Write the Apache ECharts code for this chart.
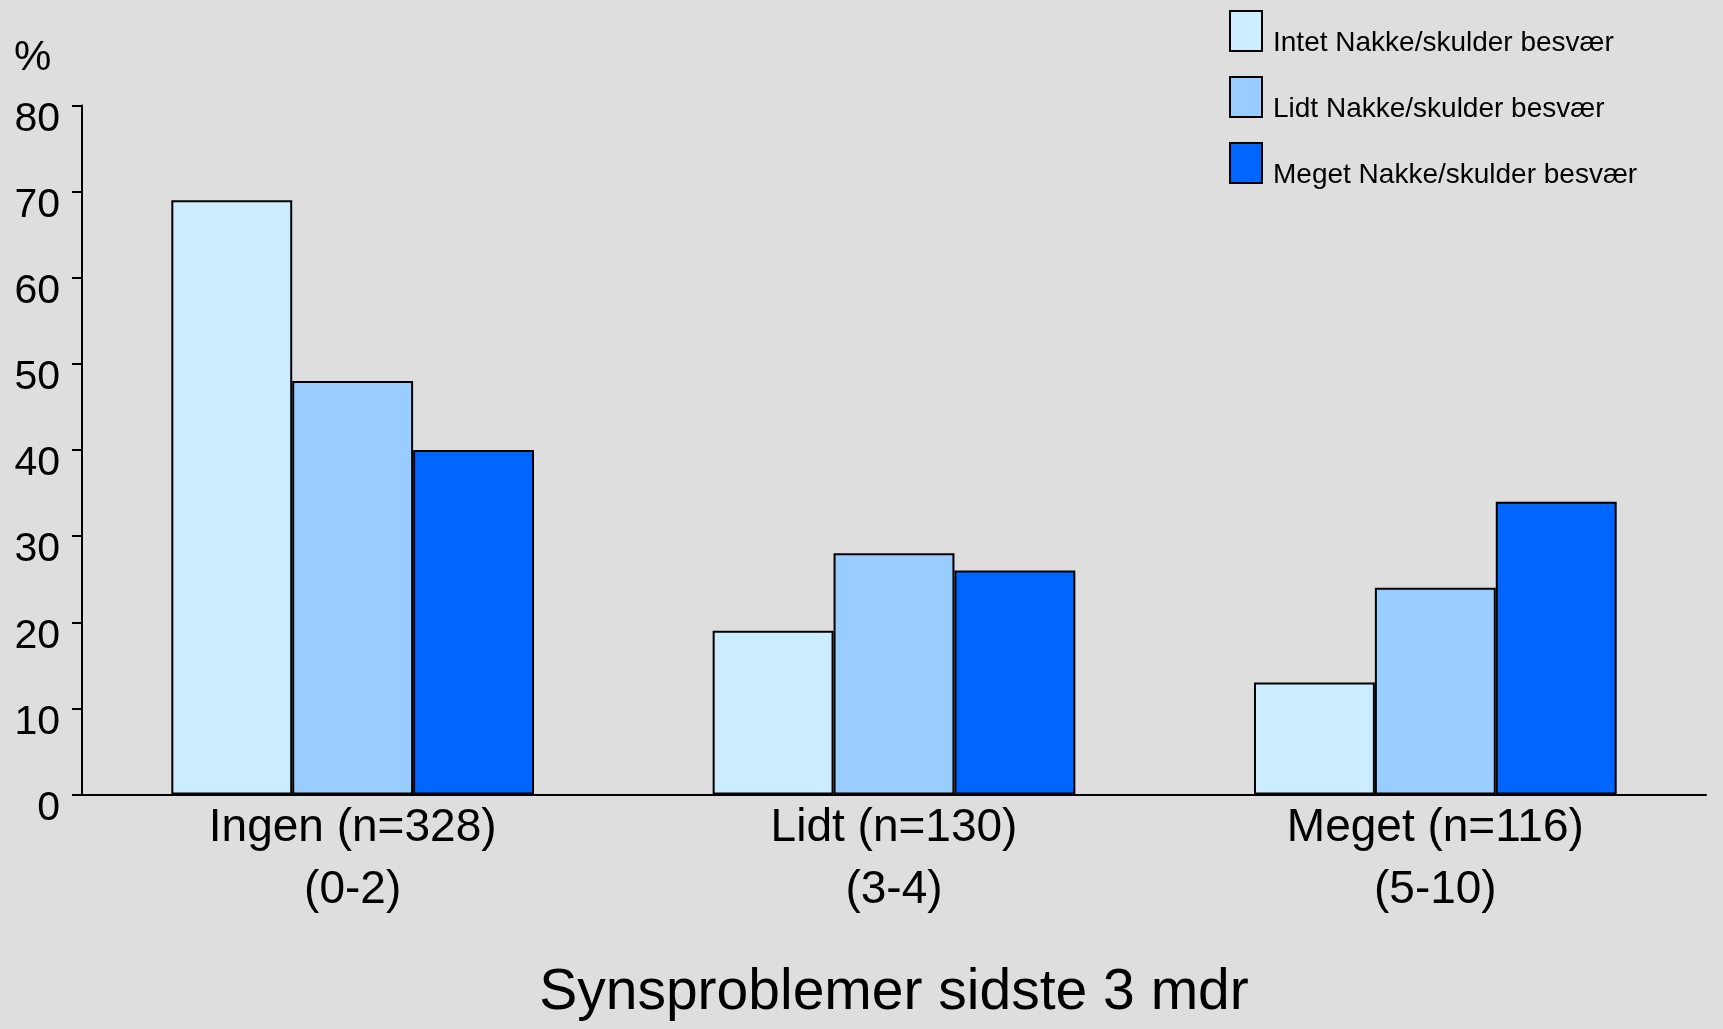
<!DOCTYPE html>
<html>
<head>
<meta charset="utf-8">
<script src="https://cdn.jsdelivr.net/npm/echarts@6/dist/echarts.min.js"></script>
<style>
html,body{margin:0;padding:0;background:#DEDEDE;}
#chart{width:1723px;height:1029px;}
</style>
</head>
<body>
<div id="chart"></div>
<script>
const categories = ['Ingen (n=328)', 'Lidt (n=130)', 'Meget (n=116)'];
const ranges = ['(0-2)', '(3-4)', '(5-10)'];
const seriesNames = ['Intet Nakke/skulder besvær', 'Lidt Nakke/skulder besvær', 'Meget Nakke/skulder besvær'];
const intetValues = [69, 19, 13];
const lidtValues = [48, 28, 24];
const megetValues = [40, 26, 34];
const yTicks = [0, 10, 20, 30, 40, 50, 60, 70, 80];
const axisTitle = 'Synsproblemer sidste 3 mdr';
const yUnit = '%';

const FONT = "'Liberation Sans Narrow', 'Arial Narrow', 'Liberation Sans', sans-serif";
const colors = ['#CCECFF', '#99CCFF', '#0066FF'];
const valueSets = [intetValues, lidtValues, megetValues];

const chart = echarts.init(document.getElementById('chart'));
chart.setOption({
  backgroundColor: '#DEDEDE',
  animation: false,
  textStyle: { fontFamily: FONT, color: '#000' },
  title: [{
    text: yUnit, left: 9, top: 32,
    textStyle: { fontFamily: FONT, fontSize: 42, fontWeight: 'normal', color: '#000' }
  }],
  legend: {
    orient: 'vertical', left: 1229, top: 4.5, padding: 0,
    itemWidth: 32, itemHeight: 40, itemGap: 13,
    icon: 'rect',
    data: seriesNames,
    formatter: '{t|{name}}',
    textStyle: {
      fontFamily: FONT, fontSize: 28, color: '#000',
      rich: { t: { fontFamily: FONT, fontSize: 28, color: '#000', lineHeight: 20, padding: [25, 0, 0, 6] } }
    }
  },
  grid: { left: 82, top: 105.5, width: 1624, bottom: 234.5, containLabel: false },
  xAxis: {
    type: 'category',
    data: categories.map((c, i) => c + '\n' + ranges[i]),
    axisLine: { lineStyle: { color: '#000', width: 2 } },
    axisTick: { show: false },
    axisLabel: { fontFamily: FONT, fontSize: 46, color: '#000', lineHeight: 62, margin: 3 },
    name: axisTitle, nameLocation: 'middle', nameGap: 170,
    nameTextStyle: { fontFamily: FONT, fontSize: 57, color: '#000' }
  },
  yAxis: {
    type: 'value', min: yTicks[0], max: yTicks[yTicks.length - 1], interval: yTicks[1] - yTicks[0],
    axisLine: { show: true, lineStyle: { color: '#000', width: 2 } },
    axisTick: { show: true, length: 10, lineStyle: { color: '#000', width: 2 } },
    splitLine: { show: false },
    axisLabel: {
      margin: 22,
      formatter: '{v|{value}}',
      rich: { v: { fontFamily: FONT, fontSize: 41, color: '#000', padding: [28, 0, 0, 0] } }
    }
  },
  series: seriesNames.map((n, i) => ({
    name: n, type: 'bar', data: valueSets[i],
    barGap: '0%', barCategoryGap: '33%',
    itemStyle: { color: colors[i], borderColor: '#000', borderWidth: 2 }
  }))
});
</script>
</body>
</html>
